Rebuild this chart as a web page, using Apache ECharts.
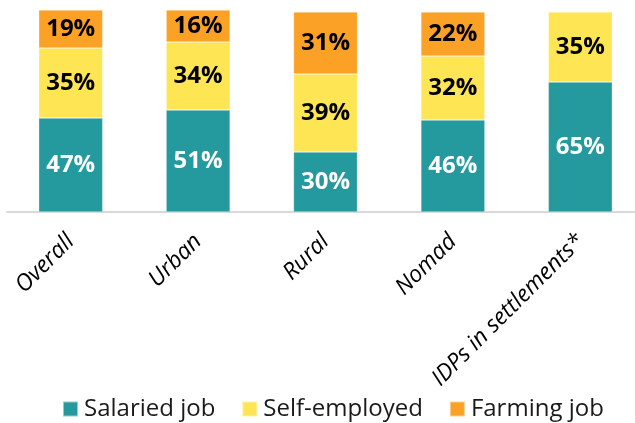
<!DOCTYPE html>
<html>
<head>
<meta charset="utf-8">
<script src="https://cdn.jsdelivr.net/npm/echarts@6/dist/echarts.min.js"></script>
<style>
  html, body { margin: 0; padding: 0; background: #fff; overflow: hidden; }
  #chart { width: 645px; height: 423px; }
</style>
</head>
<body>
<div id="chart"></div>
<script>
// Share of employed people by type of job, in percent
const categories = ['Overall', 'Urban', 'Rural', 'Nomad', 'IDPs in settlements*'];
const salaried = [47, 51, 30, 46, 65];
const selfEmployed = [35, 34, 39, 32, 35];
const farming = [19, 16, 31, 22, null];

const FONT = '"Open Sans", "Noto Sans", sans-serif';

function makeSeries(name, data, color, labelColor) {
  return {
    name: name,
    type: 'bar',
    stack: 'jobs',
    data: data,
    barWidth: 64,
    itemStyle: { color: color, borderColor: 'rgba(255,255,255,0.5)', borderWidth: 0.6 },
    label: {
      show: true,
      position: 'inside',
      formatter: p => p.value + '%',
      color: labelColor,
      fontFamily: FONT,
      fontWeight: 'bold',
      fontSize: 24
    }
  };
}

const chart = echarts.init(document.getElementById('chart'), null, { renderer: 'canvas' });
chart.setOption({
  animation: false,
  backgroundColor: '#fff',
  grid: { left: 7, right: 1, top: 10, height: 202, containLabel: false },
  legend: {
    top: 396,
    left: 62,
    padding: 0,
    itemWidth: 15,
    itemHeight: 15,
    itemGap: 26,
    icon: 'rect',
    textStyle: { fontFamily: FONT, fontSize: 24, lineHeight: 26, color: '#1a1a1a', padding: [0, 0, 0, 1] },
    data: ['Salaried job', 'Self-employed', 'Farming job']
  },
  xAxis: {
    type: 'category',
    data: categories,
    axisLine: { show: true, lineStyle: { color: '#d9d9d9', width: 2 } },
    axisTick: { show: false },
    axisLabel: {
      rotate: 45,
      margin: 26,
      interval: 0,
      fontFamily: FONT,
      fontStyle: 'italic',
      fontSize: 23,
      color: '#000'
    }
  },
  yAxis: {
    type: 'value',
    min: 0,
    max: 101,
    show: false,
    splitLine: { show: false }
  },
  series: [
    makeSeries('Salaried job', salaried, '#249a9e', '#ffffff'),
    makeSeries('Self-employed', selfEmployed, '#fee554', '#000000'),
    makeSeries('Farming job', farming, '#fba226', '#000000')
  ]
});
</script>
</body>
</html>
